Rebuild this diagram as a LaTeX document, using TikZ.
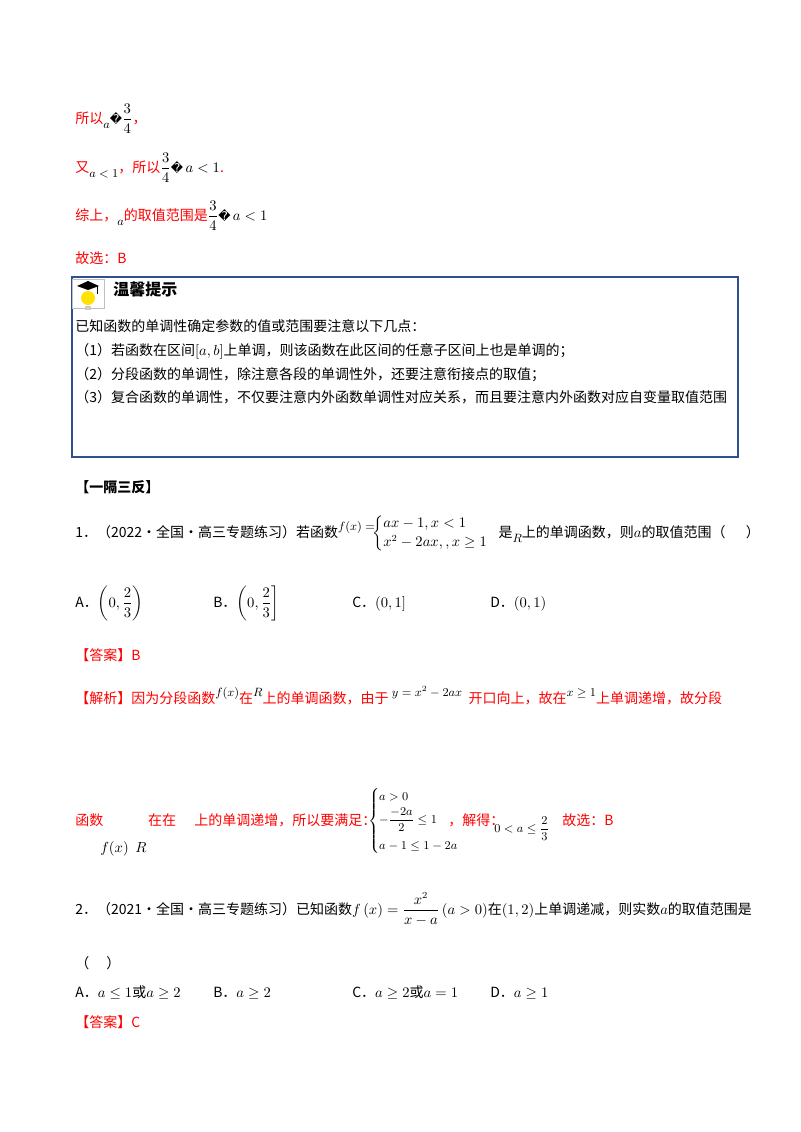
\documentclass[tikz,border=0pt]{standalone}
\usepackage{amsmath}
\usepackage{fontspec}
\setmainfont{Liberation Serif}
\newfontfamily\cjk{Noto Sans CJK SC}
\newfontfamily\dejavu{DejaVu Sans}
\newcommand{\qm}{{\color{black}\dejavu\small �}}
\newcommand{\up}[1]{\raisebox{5pt}{\color{black}\small #1}}
\newcommand{\dn}[1]{\raisebox{-4pt}{\color{black}\small #1}}
\definecolor{ansred}{RGB}{255,0,0}
\definecolor{boxblue}{RGB}{47,79,143}
\tikzset{
  txt/.style={anchor=base west,inner sep=0pt,font=\cjk\fontsize{10.5}{12}\selectfont},
  red/.style={txt,text=ansred},
}
\begin{document}
\begin{tikzpicture}[x=0.75pt,y=-0.75pt]
\useasboundingbox (0,0) rectangle (800,1132);
\node[red] (l1) at (75,123) {所以\dn{$a$}\qm{\color{black}$\dfrac{3}{4}$}，};
\node[red] (l2) at (75,172) {又\dn{$a<1$}，所以{\color{black}$\dfrac{3}{4}$}\qm\,{\color{black}$a<1$}.};
\node[red] (l3) at (75,220) {综上，\dn{$a$}的取值范围是{\color{black}$\dfrac{3}{4}$}\qm\,{\color{black}$a<1$}};
\node[red] (l4) at (75,263) {故选：B};
% box
\draw[boxblue,line width=1.6pt] (72,277) rectangle (738,457);
\node[draw=gray!50,fill=white,minimum width=24pt,minimum height=22pt,inner sep=0pt] (ic) at (88,294) {};
\fill[yellow!85!orange] (88,298) circle (7);
\fill[gray!40] (85,306) rectangle (91,310);
\fill[black] (77,286) -- (88,281) -- (99,286) -- (88,290) -- cycle;
\draw[black] (97,286) -- (97,294);
\node[txt,font=\cjk\bfseries\fontsize{12}{14}\selectfont] (tt) at (113,295) {温馨提示};
\node[txt] (t0) at (75,331) {已知函数的单调性确定参数的值或范围要注意以下几点：};
\node[txt] (t1) at (75,355) {（1）若函数在区间$[a,b]$上单调，则该函数在此区间的任意子区间上也是单调的；};
\node[txt] (t2) at (75,379) {（2）分段函数的单调性，除注意各段的单调性外，还要注意衔接点的取值；};
\node[txt] (t3) at (75,402) {（3）复合函数的单调性，不仅要注意内外函数单调性对应关系，而且要注意内外函数对应自变量取值范围};
\node[txt,font=\cjk\bfseries\fontsize{10.5}{12}\selectfont] (h) at (75,492) {【一隔三反】};
\node[txt] (q1) at (75,537) {1．（2022·全国·高三专题练习）若函数\up{$f(x)=$}\hspace{-2pt}$\begin{cases}ax-1,x<1\\ x^2-2ax,,x\ge1\end{cases}$\hspace{-3pt}是\dn{$R$}上的单调函数，则$a$的取值范围（\quad\ \ ）};
\node[txt] (oa) at (75,607) {A．$\left(0,\dfrac{2}{3}\right)$};
\node[txt] (ob) at (213,607) {B．$\left(0,\dfrac{2}{3}\right]$};
\node[txt] (oc) at (352,607) {C．$(0,1]$};
\node[txt] (od) at (490,607) {D．$(0,1)$};
\node[red] (ans1) at (75,660) {【答案】B};
\node[red] (jx) at (75,703) {【解析】因为分段函数\up{$f(x)$}在\up{$R$}上的单调函数，由于\up{$\;y=x^2-2ax$}\ \ 开口向上，故在\up{$x\ge1$}上单调递增，故分段};
\node[red] (jx2) at (75,825) {函数\hspace{3.2em}在在\hspace{1.3em}上的单调递增，所以要满足：};
\node[txt,anchor=west] (cs) at (368,821) {\small$\begin{cases}a>0\\[2pt] -\dfrac{-2a}{2}\le1\\[6pt] a-1\le1-2a\end{cases}$};
\node[red] (jd) at (448,825) {，解得：};
\node[txt] (fx) at (100,852) {$f(x)$};
\node[txt] (rr) at (135,852) {$R$};
\node[txt] (sol) at (494,832) {\small$0<a\le\dfrac{2}{3}$};
\node[red] (gx) at (562,825) {故选：B};
\node[txt] (q2) at (75,914) {2．（2021·全国·高三专题练习）已知函数$f\left(x\right)=\dfrac{x^2}{x-a}\left(a>0\right)$在$\left(1,2\right)$上单调递减，则实数$a$的取值范围是};
\node[txt] (pp) at (75,968) {（\quad\ ）};
\node[txt] (pa) at (75,997) {A．$a\le1$或$a\ge2$};
\node[txt] (pb) at (213,997) {B．$a\ge2$};
\node[txt] (pc) at (352,997) {C．$a\ge2$或$a=1$};
\node[txt] (pd) at (490,997) {D．$a\ge1$};
\node[red] (ans2) at (75,1027) {【答案】C};
\end{tikzpicture}
\end{document}
